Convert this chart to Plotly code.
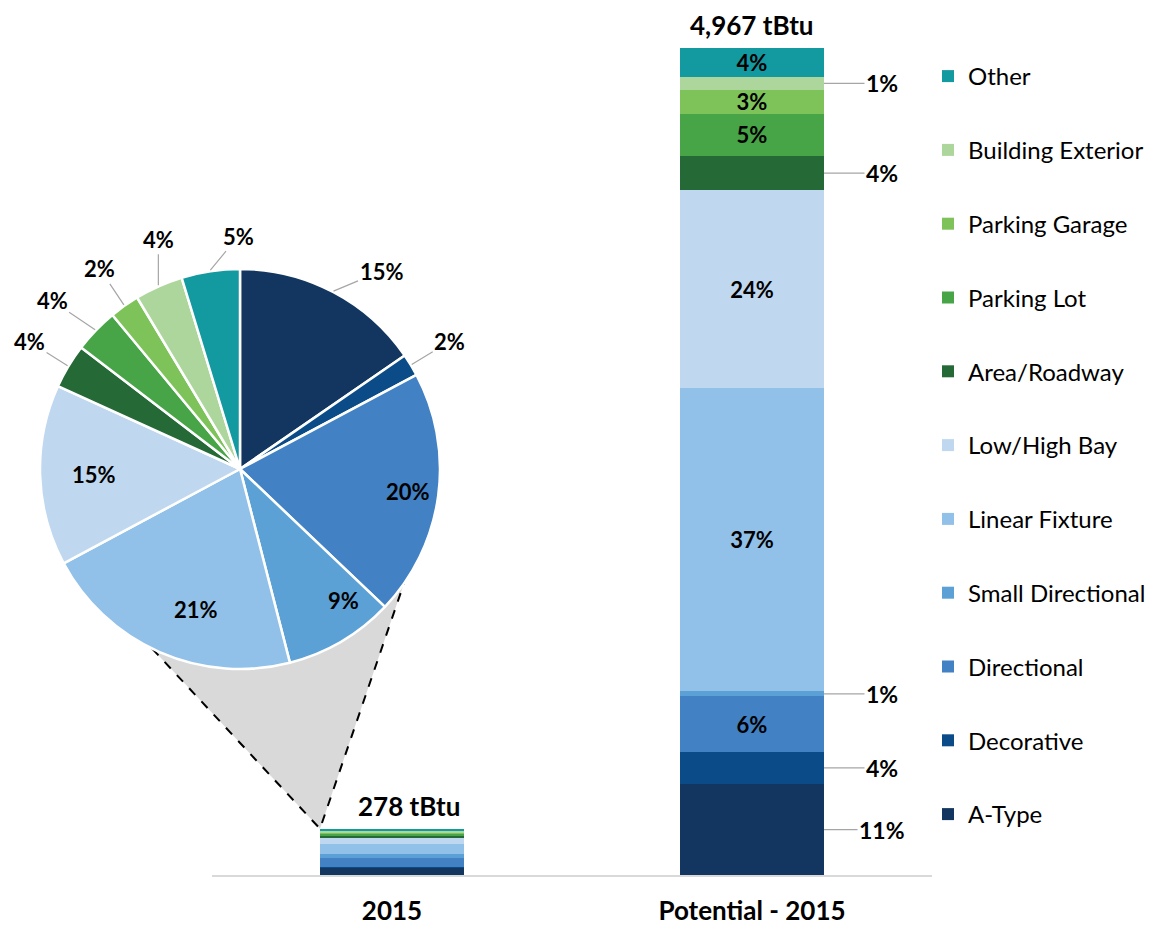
import numpy as np
import plotly.graph_objects as go

# categories, bottom of the stack first
categories = ["A-Type", "Decorative", "Directional", "Small Directional", "Linear Fixture",
              "Low/High Bay", "Area/Roadway", "Parking Lot", "Parking Garage",
              "Building Exterior", "Other"]
colors = ["#133660", "#0b4c88", "#4181c4", "#5ba1d6", "#91c0e8",
          "#c0d8ef", "#246936", "#47a447", "#7dc35a", "#acd69c", "#1399a0"]
bars = ["2015", "Potential - 2015"]

# energy by category (tBtu)
energy_2015 = [42.8, 5.0, 55.3, 24.7, 58.9, 40.6, 10.0, 10.0, 6.7, 10.8, 13.1]
energy_potential = [546, 194, 333, 30, 1822, 1187, 209, 253, 144, 75, 174]
totals = [278, 4967]
total_labels = ["278 tBtu", "4,967 tBtu"]

pct_2015 = ["15%", "2%", "20%", "9%", "21%", "15%", "4%", "4%", "2%", "4%", "5%"]
pct_potential = ["11%", "4%", "6%", "1%", "37%", "24%", "4%", "5%", "3%", "1%", "4%"]

# which labels sit inside the segment / slice
inside_bar = ["Directional", "Linear Fixture", "Low/High Bay", "Parking Lot",
              "Parking Garage", "Other"]
inside_pie = ["Directional", "Small Directional", "Linear Fixture", "Low/High Bay"]
# offsets (px) of outside pie labels from the slice edge
pie_label_offsets = {
    "A-Type": (48, -20), "Decorative": (38, -23), "Area/Roadway": (-38, -24),
    "Parking Lot": (-43, -29), "Parking Garage": (-24, -36),
    "Building Exterior": (0, -46), "Other": (28, -34),
}

FONT = "Lato, 'Open Sans', sans-serif"

# page geometry (the figure sits 8px in from the page corner)
OFF = 8
W, H = 1147, 920
ML, MR, MT, MB = 2, 2, 18, 53
P_LEFT, P_RIGHT = OFF + ML, OFF + W - MR
P_TOP, P_BOTTOM = OFF + MT, OFF + H - MB
Y_MAX = 5100
X_LEFT, X_RIGHT = 212, 932
BAR_W = 0.4


def fx(px):
    return (px - P_LEFT) / (P_RIGHT - P_LEFT)


def fy(py):
    return (P_BOTTOM - py) / (P_BOTTOM - P_TOP)


def data_px(xv, yv):
    px = X_LEFT + (xv + 0.5) / 2 * (X_RIGHT - X_LEFT)
    py = P_BOTTOM - yv / Y_MAX * (P_BOTTOM - P_TOP)
    return px, py


# pie geometry (page px)
CX, CY, R = 240, 469, 200


def on_circle(deg, r=R):
    a = np.radians(deg)
    return CX + r * np.sin(a), CY - r * np.cos(a)


fig = go.Figure()

n = len(categories)
for i, name in enumerate(categories):
    fig.add_trace(go.Bar(
        x=bars,
        y=[energy_2015[i], energy_potential[i]],
        name=name,
        legendgroup=name,
        legendrank=n - i,
        marker=dict(color=colors[i], line=dict(width=0)),
        width=BAR_W,
        text=["", pct_potential[i] if name in inside_bar else ""],
        textposition="inside",
        insidetextanchor="middle",
        textfont=dict(family=FONT, size=22, color="black", weight="bold"),
    ))

fig.add_trace(go.Pie(
    values=energy_2015,
    labels=categories,
    marker=dict(colors=colors, line=dict(color="white", width=2.5)),
    sort=False,
    direction="clockwise",
    rotation=0,
    textinfo="none",
    showlegend=False,
    domain=dict(x=[fx(CX - R), fx(CX + R)], y=[fy(CY + R), fy(CY - R)]),
))

annotations = []
label_font = dict(family=FONT, size=22, color="black", weight="bold")

# pie labels
vals = np.array(energy_2015)
mids = (np.cumsum(vals) - vals / 2) / vals.sum() * 360
for name, lab, ang in zip(categories, pct_2015, mids):
    if name in inside_pie:
        px, py = on_circle(ang, R * 0.85)
        annotations.append(dict(x=fx(px), y=fy(py), xref="paper", yref="paper",
                                text=lab, showarrow=False, font=label_font))
    else:
        px, py = on_circle(ang, R + 1)
        dx, dy = pie_label_offsets[name]
        annotations.append(dict(x=fx(px), y=fy(py), xref="paper", yref="paper",
                                text=lab, showarrow=True, arrowhead=0, arrowwidth=1.2,
                                arrowcolor="#a6a6a6", ax=dx, ay=dy, font=label_font))

# outside labels on the potential bar
pot = np.array(energy_potential)
pot_mid = np.cumsum(pot) - pot / 2
for name, lab, ym in zip(categories, pct_potential, pot_mid):
    if name in inside_bar:
        continue
    annotations.append(dict(x=1 + BAR_W / 2, y=ym, xref="x", yref="y",
                            text=lab, showarrow=True, arrowhead=0, arrowwidth=1.2,
                            arrowcolor="#a6a6a6", ax=58, ay=0,
                            font=dict(family=FONT, size=23, color="black", weight="bold")))

# totals above bars (x given as category index, "2015" would be read as a number)
for j, (t, lab) in enumerate(zip(totals, total_labels)):
    annotations.append(dict(x=j, y=t, xref="x", yref="y", text=lab, showarrow=False,
                            yanchor="bottom", yshift=6, borderpad=0,
                            xshift=17 if j == 0 else 0,
                            font=dict(family=FONT, size=26, color="black", weight="bold")))

# zoom wedge from the pie down to the 2015 bar
lx, ly = on_circle(206)
rx, ry = on_circle(125)
apx, apy = data_px(0 - BAR_W / 2, totals[0])
wedge = (f"M {fx(lx)},{fy(ly)} L {fx(apx)},{fy(apy)} L {fx(rx)},{fy(ry)} Z")

fig.update_layout(
    width=W, height=H,
    margin=dict(l=ML, r=MR, t=MT, b=MB),
    paper_bgcolor="white",
    plot_bgcolor="white",
    barmode="stack",
    font=dict(family=FONT, size=20, color="black"),
    xaxis=dict(domain=[fx(X_LEFT), fx(X_RIGHT)], range=[-0.5, 1.5],
               type="category",
               showline=True, linecolor="#d9d9d9", linewidth=2,
               showgrid=False, ticks="", ticklabelstandoff=12, automargin=False,
               tickfont=dict(family=FONT, size=26, color="black", weight="bold")),
    yaxis=dict(range=[0, Y_MAX], visible=False, showgrid=False),
    legend=dict(x=fx(928), y=fy(54), xanchor="left", yanchor="top",
                traceorder="grouped", tracegroupgap=39.6,
                font=dict(family=FONT, size=24, color="black"),
                bgcolor="rgba(0,0,0,0)"),
    shapes=[dict(type="path", path=wedge, xref="paper", yref="paper",
                 fillcolor="#d9d9d9", layer="below",
                 line=dict(color="black", width=2, dash="dash"))],
    annotations=annotations,
    uniformtext=dict(minsize=22, mode="show"),
)

fig.write_html("out.html")
